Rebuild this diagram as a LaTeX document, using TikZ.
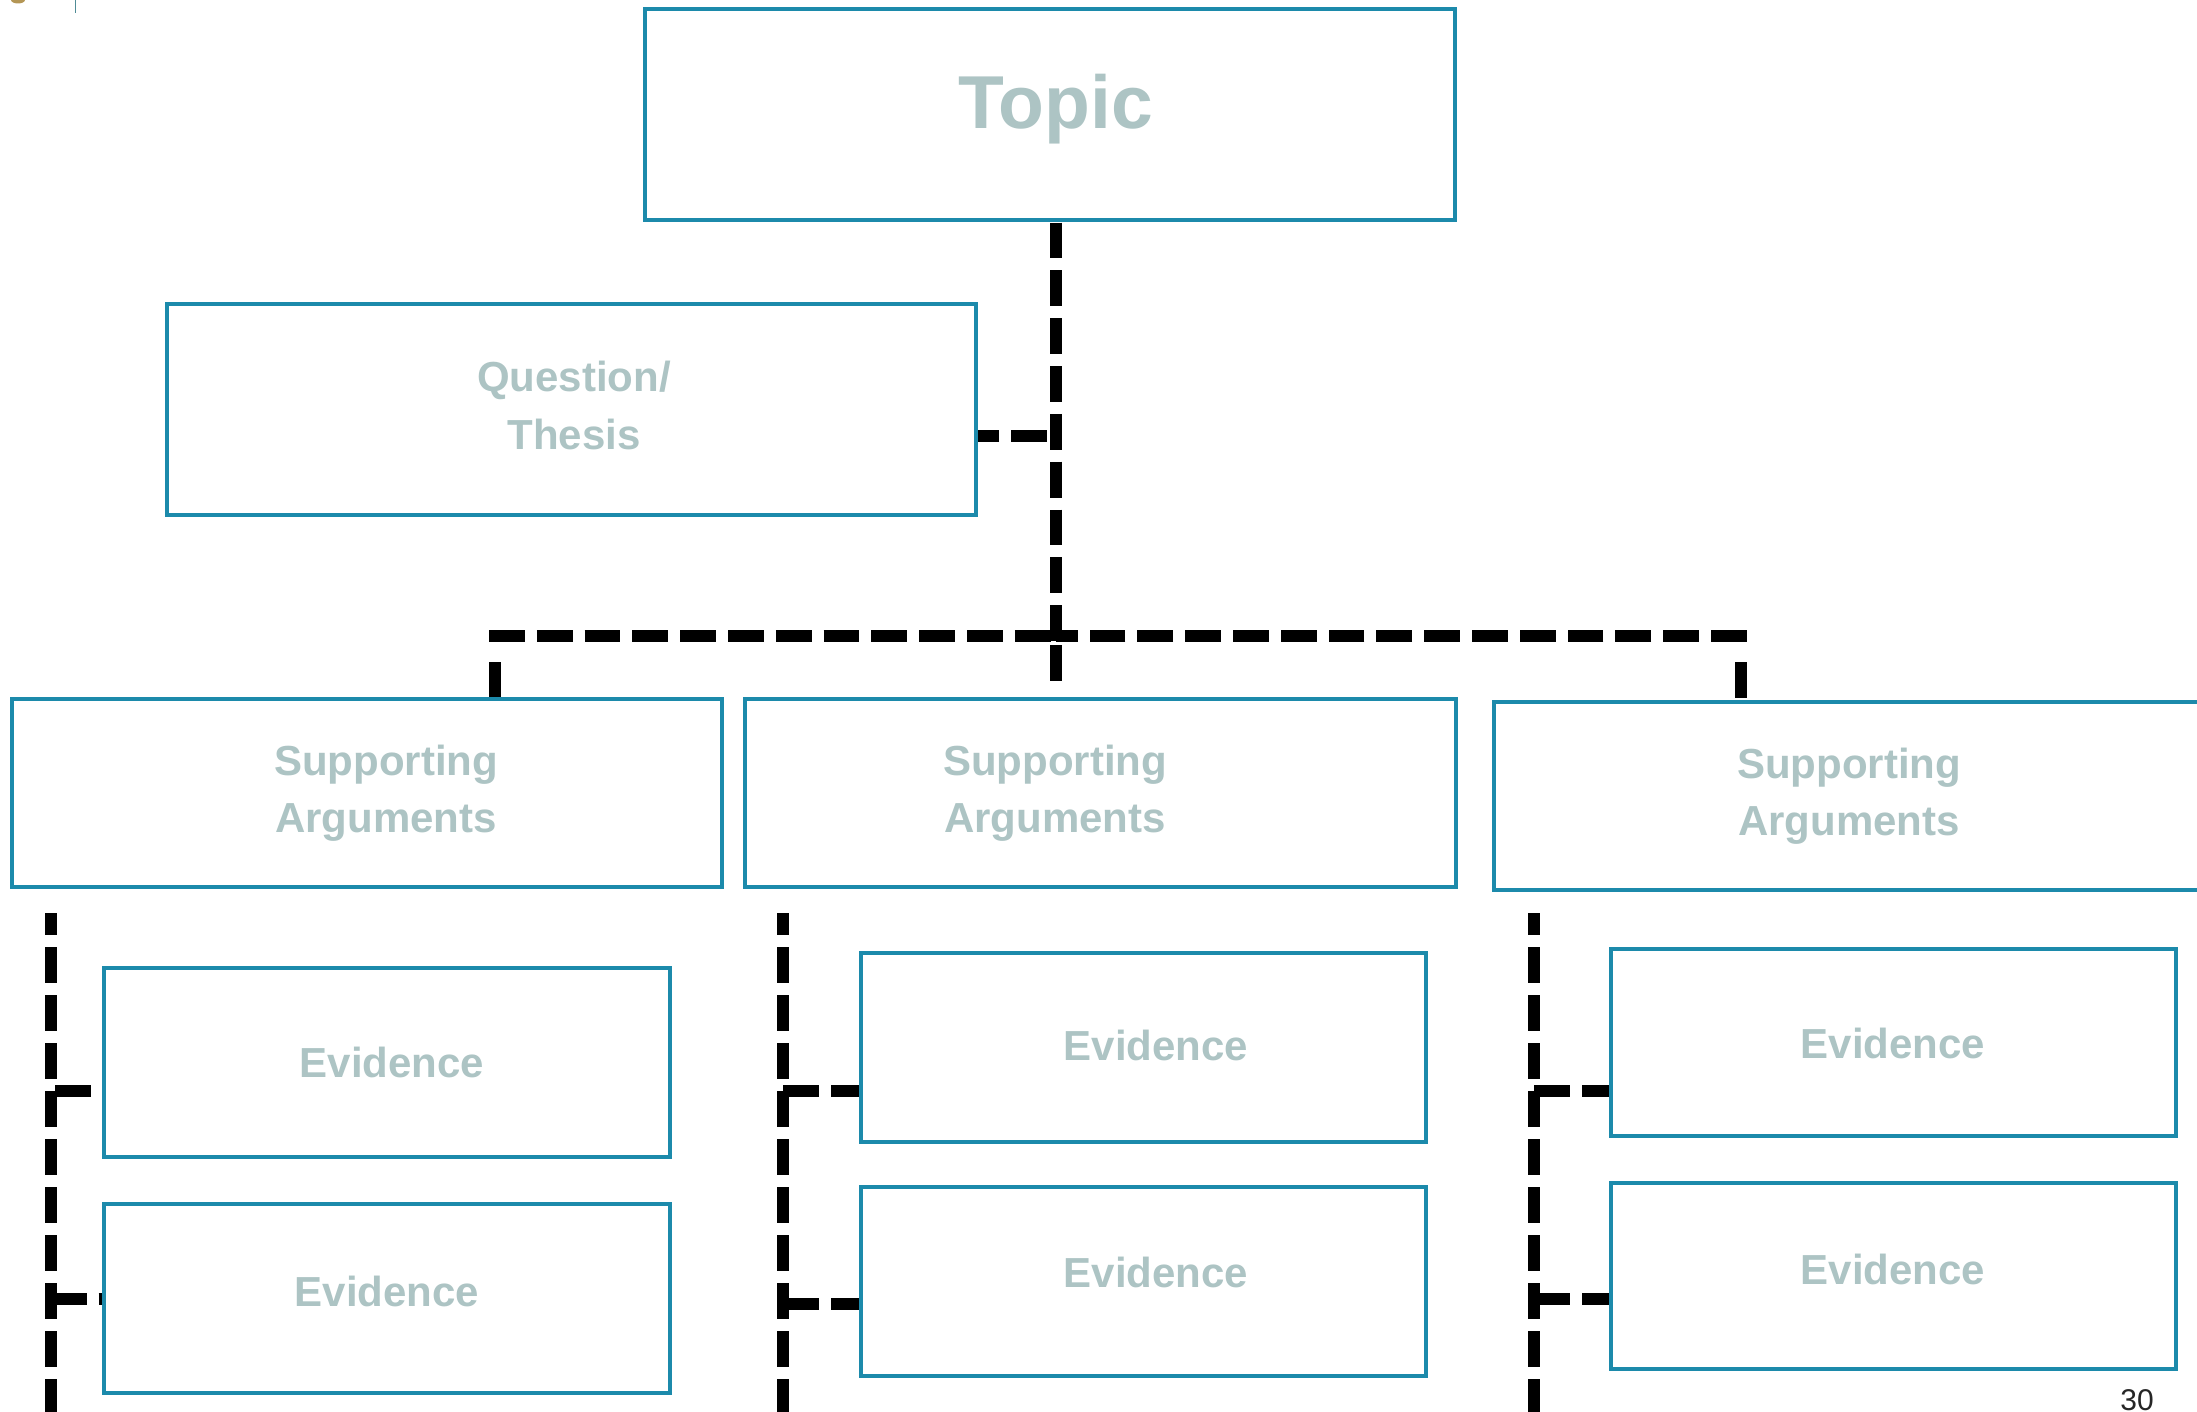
\documentclass[tikz,border=0pt]{standalone}
\usepackage{fontspec}
\setmainfont{Liberation Sans}
\definecolor{boxteal}{RGB}{28,138,171}
\definecolor{labelgray}{RGB}{173,196,196}
\definecolor{markgold}{RGB}{180,150,85}
\definecolor{marklineteal}{RGB}{80,140,150}
\begin{document}
\begin{tikzpicture}[x=1pt,y=-1pt,
  box/.style={draw=boxteal,line width=4pt,fill=white,inner sep=0pt},
  lbl/.style={text=labelgray,font=\bfseries\fontsize{42}{57.5}\selectfont,align=center,inner sep=0pt,anchor=base},
  dl/.style={line width=12pt,dash pattern=on 35.8pt off 12pt},
  dc/.style={line width=12pt,dash pattern=on 36pt off 12pt},
]
\useasboundingbox (0,0) rectangle (2197,1412);

% corner marks
\fill[markgold] (18,0) ellipse (7pt and 3.5pt);
\draw[marklineteal,line width=1.3pt] (75.5,0) -- (75.5,13);

% boxes
\node[box,minimum width=810pt,minimum height=211pt] (topic) at (1050,114.5) {};
\node[box,minimum width=809pt,minimum height=211pt] (quest) at (571.5,409.5) {};
\node[box,minimum width=710pt,minimum height=188pt] (sa1) at (367,793) {};
\node[box,minimum width=711pt,minimum height=188pt] (sa2) at (1100.5,793) {};
\node[box,minimum width=721pt,minimum height=188pt] (sa3) at (1854.5,796) {};
\node[box,minimum width=566pt,minimum height=189pt] (e1a) at (387,1062.5) {};
\node[box,minimum width=566pt,minimum height=189pt] (e1b) at (387,1298.5) {};
\node[box,minimum width=565pt,minimum height=189pt] (e2a) at (1143.5,1047.5) {};
\node[box,minimum width=565pt,minimum height=189pt] (e2b) at (1143.5,1281.5) {};
\node[box,minimum width=565pt,minimum height=187pt] (e3a) at (1893.5,1042.5) {};
\node[box,minimum width=565pt,minimum height=186pt] (e3b) at (1893.5,1276) {};

% labels (base anchor = baseline of the last line)
\node[lbl,font=\bfseries\fontsize{75}{90}\selectfont] (ttopic) at (1055.7,129) {Topic};
\node[lbl] (tquest) at (574,449) {Question/\\Thesis};
\node[lbl] (tsa1) at (386,832.5) {Supporting\\Arguments};
\node[lbl] (tsa2) at (1055,832.5) {Supporting\\Arguments};
\node[lbl] (tsa3) at (1849,835.5) {Supporting\\Arguments};
\node[lbl] (te1a) at (392,1077) {Evidence};
\node[lbl] (te1b) at (387,1306) {Evidence};
\node[lbl] (te2a) at (1156,1060) {Evidence};
\node[lbl] (te2b) at (1156,1287) {Evidence};
\node[lbl] (te3a) at (1893,1058) {Evidence};
\node[lbl] (te3b) at (1893,1284) {Evidence};
\node[anchor=base,inner sep=0pt,text=black!85,font=\fontsize{30}{36}\selectfont] (pnum) at (2137,1410) {30};

% junction coordinates
\coordinate (t0) at (1056,222.7);
\coordinate (hub) at (1056,641.7);
\coordinate (hc) at (1056,636);
\coordinate (qj) at (1047,436);
\coordinate (hl) at (489,636);
\coordinate (hr) at (1746.7,636);
\coordinate (d1) at (495,662);
\coordinate (d2) at (1056,645);
\coordinate (d2e) at (1056,681);
\coordinate (d3) at (1741,662);
\coordinate (c1t) at (50.5,913);
\coordinate (c1b) at (50.5,1412);
\coordinate (c2t) at (783,913);
\coordinate (c2b) at (783,1412);
\coordinate (c3t) at (1534,913);
\coordinate (c3b) at (1534,1412);
\coordinate (b1a) at (55,1091);
\coordinate (b1b) at (50.5,1299);
\coordinate (b2a) at (783,1091);
\coordinate (b2b) at (783,1304);
\coordinate (b3a) at (1534,1091);
\coordinate (b3b) at (1534,1299);

% trunk
\draw[dl] (t0) -- (hub);
\draw[dl] (qj) -- (qj -| quest.east);
\draw[dl] (hl) -- (hc);
\draw[dl] (hr) -- (hc);
\draw[dl] (d1) -- (d1 |- sa1.north);
\draw[dl] (d2) -- (d2e);
\draw[dl] (d3) -- (d3 |- sa3.north);

% column spines
\draw[dc,dash phase=14pt] (c1t) -- (c1b);
\draw[dc,dash phase=14pt] (c2t) -- (c2b);
\draw[dc,dash phase=14pt] (c3t) -- (c3b);

% branches
\draw[dc] (b1a) -- (b1a -| e1a.west);
\draw[dc] (b1b) -- (b1b -| e1b.west);
\draw[dc] (b2a) -- (b2a -| e2a.west);
\draw[dc] (b2b) -- (b2b -| e2b.west);
\draw[dc] (b3a) -- (b3a -| e3a.west);
\draw[dc] (b3b) -- (b3b -| e3b.west);
\end{tikzpicture}
\end{document}
